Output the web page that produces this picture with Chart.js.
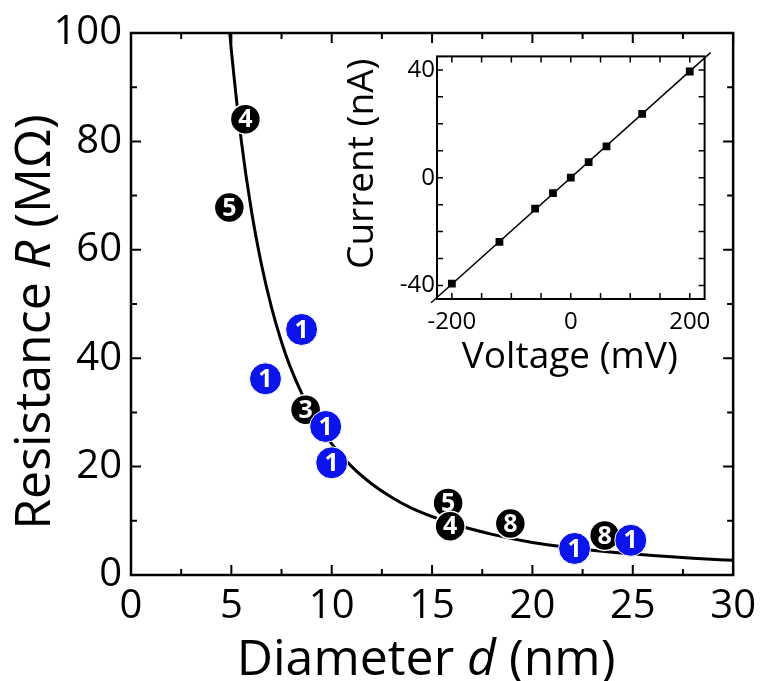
<!DOCTYPE html>
<html>
<head>
<meta charset="utf-8">
<script src="https://cdn.jsdelivr.net/npm/chart.js@4.4.1/dist/chart.umd.min.js"></script>
<style>
  html, body { margin: 0; padding: 0; background: #fff; }
  #wrap { position: relative; width: 764px; height: 681px; }
  #main { position: absolute; left: 0; top: 0; }
  #inset { position: absolute; left: 330px; top: 40px; }
</style>
</head>
<body>
<div id="wrap">
  <canvas id="main" width="764" height="681"></canvas>
  <canvas id="inset" width="390" height="345"></canvas>
</div>
<script>
// main panel: resistance vs diameter
const blueD = [8.5, 6.7, 9.7, 10.0, 22.1, 24.9];
const blueR = [45.3, 36.2, 27.4, 20.7, 4.9, 6.4];
const blueNum = ['1', '1', '1', '1', '1', '1'];

const blackD = [5.7, 4.9, 8.7, 15.8, 15.9, 18.9, 23.6];
const blackR = [84.1, 67.8, 30.5, 13.3, 9.0, 9.5, 7.3];
const blackNum = ['4', '5', '3', '5', '4', '8', '8'];

// fitted curve
const fitD = [4.8, 5, 5.5, 6, 6.5, 7, 7.5, 8, 9, 10, 11, 12, 13, 14, 16, 18, 20, 22, 24, 26, 28, 30];
const fitR = [105, 96.8, 80, 67.2, 57.3, 49.4, 43, 37.8, 29.9, 24.2, 20, 16.8, 14.3, 12.3, 9.5, 7.5, 6.0, 5.0, 4.2, 3.6, 3.1, 2.7];

const xTicks = [0, 5, 10, 15, 20, 25, 30];
const xMinor = [2.5, 7.5, 12.5, 17.5, 22.5, 27.5];
const yTicks = [0, 20, 40, 60, 80, 100];
const yMinor = [10, 30, 50, 70, 90];

// inset: I-V curve
const voltage = [-200, -120, -60, -30, 0, 30, 60, 120, 200];
const current = [-39.3, -23.8, -11.5, -5.7, 0, 5.8, 11.6, 23.7, 39.4];
const lineV = [-235, 235];
const lineI = [-46.4, 46.4];

const vTicks = [-200, 0, 200];
const vMinor = [-150, -100, -50, 50, 100, 150];
const iTicks = [-40, 0, 40];
const iMinor = [-30, -20, -10, 10, 20, 30];

const FONT = '"Open Sans", "Noto Sans", sans-serif';
Chart.defaults.color = '#000';
Chart.defaults.font.family = FONT;

const pts = (xs, ys) => xs.map((v, i) => ({ x: v, y: ys[i] }));

// white numbers inside the round markers
const markerNumbers = {
  id: 'markerNumbers',
  afterDatasetDraw(chart, args) {
    const ds = chart.data.datasets[args.index];
    if (!ds.numbers) return;
    const ctx = chart.ctx;
    ctx.save();
    ctx.font = 'bold 25px ' + FONT;
    ctx.fillStyle = '#fff';
    ctx.textAlign = 'center';
    ctx.textBaseline = 'middle';
    args.meta.data.forEach((el, i) => {
      ctx.fillText(ds.numbers[i], el.x, el.y + 1);
    });
    ctx.restore();
  }
};

// box frame with inward ticks on all four sides
const frameTicks = {
  id: 'frameTicks',
  afterDatasetsDraw(chart, args, o) {
    const { ctx, chartArea: a } = chart;
    const x = chart.scales.x, y = chart.scales.y;
    ctx.save();
    ctx.strokeStyle = '#000';
    ctx.lineWidth = o.tickWidth;
    ctx.beginPath();
    const xt = (vals, len) => vals.forEach(v => {
      const p = x.getPixelForValue(v);
      ctx.moveTo(p, a.bottom); ctx.lineTo(p, a.bottom - len);
      ctx.moveTo(p, a.top); ctx.lineTo(p, a.top + len);
    });
    const yt = (vals, len) => vals.forEach(v => {
      const p = y.getPixelForValue(v);
      ctx.moveTo(a.left, p); ctx.lineTo(a.left + len, p);
      ctx.moveTo(a.right, p); ctx.lineTo(a.right - len, p);
    });
    xt(o.xMajor, o.major); xt(o.xMinor, o.minor);
    yt(o.yMajor, o.major); yt(o.yMinor, o.minor);
    ctx.stroke();
    ctx.lineWidth = o.frameWidth;
    ctx.strokeRect(a.left, a.top, a.right - a.left, a.bottom - a.top);
    ctx.restore();
  }
};

// axis titles with italic symbols
function drawParts(ctx, parts, cx, cy, rotate) {
  ctx.save();
  ctx.translate(cx, cy);
  if (rotate) ctx.rotate(-Math.PI / 2);
  ctx.fillStyle = '#000';
  ctx.textAlign = 'left';
  ctx.textBaseline = 'alphabetic';
  let total = 0;
  parts.forEach(p => { ctx.font = p.font; total += ctx.measureText(p.text).width; });
  let px = -total / 2;
  parts.forEach(p => {
    ctx.font = p.font;
    ctx.fillText(p.text, px, 0);
    px += ctx.measureText(p.text).width;
  });
  ctx.restore();
}

const axisTitles = {
  id: 'axisTitles',
  afterDraw(chart, args, o) {
    const a = chart.chartArea;
    const cx = (a.left + a.right) / 2;
    const cy = (a.top + a.bottom) / 2;
    drawParts(chart.ctx, o.x, cx + o.xShift, o.xBase, false);
    drawParts(chart.ctx, o.y, o.yBase, cy + o.yShift, true);
  }
};

const big = '50px ' + FONT;
const bigI = 'italic 50px ' + FONT;

new Chart(document.getElementById('main'), {
  type: 'scatter',
  data: {
    datasets: [
      {
        data: pts(blueD, blueR),
        numbers: blueNum,
        pointRadius: 16,
        backgroundColor: 'rgb(10, 20, 235)',
        borderColor: '#fff',
        borderWidth: 1
      },
      {
        data: pts(blackD, blackR),
        numbers: blackNum,
        pointRadius: 15,
        backgroundColor: '#000',
        borderColor: '#fff',
        borderWidth: 1.5
      },
      {
        type: 'line',
        data: pts(fitD, fitR),
        borderColor: '#000',
        borderWidth: 3,
        pointRadius: 0,
        cubicInterpolationMode: 'monotone',
        fill: false
      }
    ]
  },
  options: {
    responsive: false,
    animation: false,
    devicePixelRatio: 1,
    layout: { padding: { left: 0, top: 28.5, right: 29, bottom: 0 } },
    plugins: {
      legend: { display: false },
      tooltip: { enabled: false },
      frameTicks: {
        xMajor: xTicks, xMinor: xMinor, yMajor: yTicks, yMinor: yMinor,
        major: 10, minor: 6, tickWidth: 2, frameWidth: 2.5
      },
      axisTitles: {
        x: [{ text: 'Diameter ', font: big }, { text: 'd', font: bigI }, { text: ' (nm)', font: big }],
        y: [{ text: 'Resistance ', font: big }, { text: 'R', font: bigI }, { text: ' (MΩ)', font: big }],
        xBase: 675, xShift: -6, yBase: 50, yShift: 18
      }
    },
    scales: {
      x: {
        type: 'linear', min: 0, max: 30,
        afterBuildTicks: s => { s.ticks = xTicks.map(v => ({ value: v })); },
        afterFit: s => { s.height = 106; },
        grid: { display: false, drawTicks: false },
        border: { display: false },
        ticks: { font: { size: 40 }, padding: 8, maxRotation: 0 }
      },
      y: {
        type: 'linear', min: 0, max: 100,
        afterBuildTicks: s => { s.ticks = yTicks.map(v => ({ value: v })); },
        afterFit: s => { s.width = 131; },
        grid: { display: false, drawTicks: false },
        border: { display: false },
        ticks: { font: { size: 40 }, padding: 9 }
      }
    }
  },
  plugins: [markerNumbers, frameTicks, axisTitles]
});

const mid = '37px ' + FONT;

new Chart(document.getElementById('inset'), {
  type: 'scatter',
  data: {
    datasets: [
      {
        data: pts(voltage, current),
        pointStyle: 'rect',
        pointRadius: 5.5,
        backgroundColor: '#000',
        borderColor: '#000',
        borderWidth: 0
      },
      {
        type: 'line',
        data: pts(lineV, lineI),
        borderColor: '#000',
        borderWidth: 1.5,
        pointRadius: 0,
        clip: false,
        fill: false
      }
    ]
  },
  options: {
    responsive: false,
    animation: false,
    devicePixelRatio: 1,
    layout: { padding: { left: 0, top: 14, right: 12, bottom: 0 } },
    plugins: {
      legend: { display: false },
      tooltip: { enabled: false },
      frameTicks: {
        xMajor: vTicks, xMinor: vMinor, yMajor: iTicks, yMinor: iMinor,
        major: 6, minor: 6, tickWidth: 1.5, frameWidth: 2
      },
      axisTitles: {
        x: [{ text: 'Voltage (mV)', font: mid }],
        y: [{ text: 'Current (nA)', font: mid }],
        xBase: 328, xShift: -1, yBase: 43, yShift: -14
      }
    },
    scales: {
      x: {
        type: 'linear', min: -225, max: 225,
        afterBuildTicks: s => { s.ticks = vTicks.map(v => ({ value: v })); },
        afterFit: s => { s.height = 86; },
        grid: { display: false, drawTicks: false },
        border: { display: false },
        ticks: { font: { size: 24 }, padding: 9, maxRotation: 0 }
      },
      y: {
        type: 'linear', min: -45, max: 45,
        afterBuildTicks: s => { s.ticks = iTicks.map(v => ({ value: v })); },
        afterFit: s => { s.width = 107; },
        grid: { display: false, drawTicks: false },
        border: { display: false },
        ticks: { font: { size: 24 }, padding: 2 }
      }
    }
  },
  plugins: [frameTicks, axisTitles]
});
</script>
</body>
</html>
